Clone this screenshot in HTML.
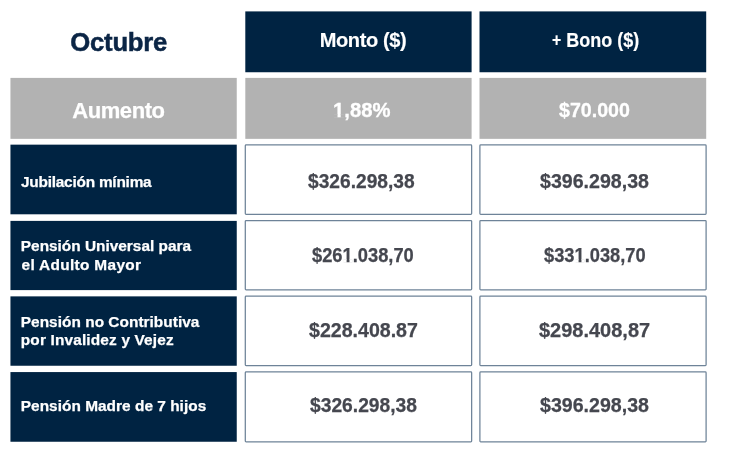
<!DOCTYPE html>
<html lang="es"><head><meta charset="utf-8"><title>Octubre</title>
<style>
html,body{margin:0;padding:0;background:#fff;}
body{width:730px;height:454px;position:relative;overflow:hidden;font-family:"Liberation Sans",sans-serif;font-weight:bold;}
.bg{position:absolute;left:0;top:0;display:block;}
.t{position:absolute;white-space:nowrap;line-height:1;transform-origin:0 0;}
</style></head><body>
<svg class="bg" width="730" height="454" viewBox="0 0 730 454">
<rect x="245.3" y="11.4" width="226.3" height="60.85" fill="#002342"/>
<rect x="479.5" y="11.4" width="226.7" height="60.85" fill="#002342"/>
<rect x="10.45" y="77.9" width="226.3" height="60.95" fill="#b2b2b2"/>
<rect x="245.3" y="77.9" width="226.3" height="60.95" fill="#b2b2b2"/>
<rect x="479.5" y="77.9" width="226.7" height="60.95" fill="#b2b2b2"/>
<rect x="10.45" y="144.65" width="226.3" height="69.65" fill="#002342"/>
<rect x="245.3" y="144.95" width="226.35" height="69.45" fill="#fff" stroke="#6e8398" stroke-width="1.25" rx="0.8"/>
<rect x="479.9" y="144.95" width="226.2" height="69.45" fill="#fff" stroke="#6e8398" stroke-width="1.25" rx="0.8"/>
<rect x="10.45" y="220.9" width="226.3" height="69.2" fill="#002342"/>
<rect x="245.3" y="220.5" width="226.35" height="69.4" fill="#fff" stroke="#6e8398" stroke-width="1.25" rx="0.8"/>
<rect x="479.9" y="220.5" width="226.2" height="69.4" fill="#fff" stroke="#6e8398" stroke-width="1.25" rx="0.8"/>
<rect x="10.45" y="296.37" width="226.3" height="69.38" fill="#002342"/>
<rect x="245.3" y="296.15" width="226.35" height="69.45" fill="#fff" stroke="#6e8398" stroke-width="1.25" rx="0.8"/>
<rect x="479.9" y="296.15" width="226.2" height="69.45" fill="#fff" stroke="#6e8398" stroke-width="1.25" rx="0.8"/>
<rect x="10.45" y="372.07" width="226.3" height="69.68" fill="#002342"/>
<rect x="245.3" y="371.87" width="226.35" height="69.93" fill="#fff" stroke="#6e8398" stroke-width="1.25" rx="0.8"/>
<rect x="479.9" y="371.87" width="226.2" height="69.93" fill="#fff" stroke="#6e8398" stroke-width="1.25" rx="0.8"/>
</svg>
<span class="t" style="left:70.30px;top:30.01px;font-size:25.7px;color:#0b2545;-webkit-text-stroke:0.5px #0b2545;letter-spacing:-0.240px">Octubre</span>
<span class="t" style="left:72.33px;top:100.01px;font-size:22px;color:#fff;-webkit-text-stroke:0.25px #fff;letter-spacing:-0.451px">Aumento</span>
<span class="t" style="left:319.65px;top:30.00px;font-size:20px;color:#fff;-webkit-text-stroke:0.15px #fff;letter-spacing:-0.368px">Monto ($)</span>
<span class="t" style="left:551.72px;top:30.00px;font-size:20px;color:#fff;-webkit-text-stroke:0.15px #fff;transform:scaleX(0.8994)"><span style="font-size:.88em;vertical-align:.04em">+</span> Bono ($)</span>
<span class="t" style="left:333.29px;top:100.00px;font-size:20px;color:#fff;-webkit-text-stroke:0.3px #fff;clip-path:path(evenodd,'M-9-9H200V40H-9ZM0.56 14.21H4.47V17.75H0.56ZM7.61 14.21H11.27V17.75H7.61Z');transform:scaleX(1.0125)">1,88%</span>
<span class="t" style="left:558.84px;top:100.00px;font-size:20px;color:#fff;-webkit-text-stroke:0.3px #fff;transform:scaleX(0.9814)">$70.000</span>
<span class="t" style="left:21.00px;top:174.01px;font-size:15.4px;color:#fff;-webkit-text-stroke:0.25px #fff;letter-spacing:-0.225px">Jubilación mínima</span>
<span class="t" style="left:20.81px;top:238.01px;font-size:15.4px;color:#fff;-webkit-text-stroke:0.25px #fff;letter-spacing:0.002px">Pensión Universal para</span>
<span class="t" style="left:21.50px;top:257.01px;font-size:15.4px;color:#fff;-webkit-text-stroke:0.25px #fff;letter-spacing:0.333px">el Adulto Mayor</span>
<span class="t" style="left:20.81px;top:314.01px;font-size:15.4px;color:#fff;-webkit-text-stroke:0.25px #fff;letter-spacing:0.032px">Pensión no Contributiva</span>
<span class="t" style="left:20.77px;top:332.01px;font-size:15.4px;color:#fff;-webkit-text-stroke:0.25px #fff;letter-spacing:0.162px">por Invalidez y Vejez</span>
<span class="t" style="left:20.81px;top:398.01px;font-size:15.4px;color:#fff;-webkit-text-stroke:0.25px #fff;letter-spacing:0.030px">Pensión Madre de 7 hijos</span>
<span class="t" style="left:307.56px;top:171.00px;font-size:20px;color:#45474f;-webkit-text-stroke:0.25px #45474f;transform:scaleX(0.9584)">$326.298,38</span>
<span class="t" style="left:540.14px;top:171.00px;font-size:20px;color:#45474f;-webkit-text-stroke:0.25px #45474f;transform:scaleX(0.9798)">$396.298,38</span>
<span class="t" style="left:311.78px;top:245.00px;font-size:20px;color:#45474f;-webkit-text-stroke:0.25px #45474f;clip-path:path(evenodd,'M-9-9H200V40H-9ZM33.93 14.21H37.84V17.75H33.93ZM40.98 14.21H44.64V17.75H40.98Z');transform:scaleX(0.9148)">$261.038,70</span>
<span class="t" style="left:543.68px;top:245.00px;font-size:20px;color:#45474f;-webkit-text-stroke:0.25px #45474f;clip-path:path(evenodd,'M-9-9H200V40H-9ZM33.93 14.21H37.84V17.75H33.93ZM40.98 14.21H44.64V17.75H40.98Z');transform:scaleX(0.9138)">$331.038,70</span>
<span class="t" style="left:308.68px;top:320.00px;font-size:20px;color:#45474f;-webkit-text-stroke:0.25px #45474f;transform:scaleX(0.9791)">$228.408.87</span>
<span class="t" style="left:539.20px;top:320.00px;font-size:20px;color:#45474f;-webkit-text-stroke:0.25px #45474f;transform:scaleX(0.9989)">$298.408,87</span>
<span class="t" style="left:309.56px;top:395.00px;font-size:20px;color:#45474f;-webkit-text-stroke:0.25px #45474f;transform:scaleX(0.9621)">$326.298,38</span>
<span class="t" style="left:540.14px;top:395.00px;font-size:20px;color:#45474f;-webkit-text-stroke:0.25px #45474f;transform:scaleX(0.9798)">$396.298,38</span>
</body></html>
